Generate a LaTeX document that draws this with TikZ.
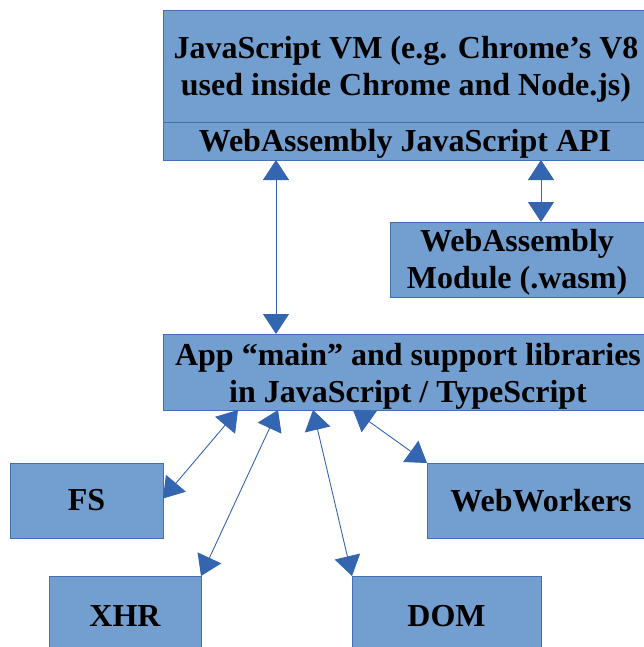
\documentclass[tikz,border=0pt]{standalone}
\usepackage{fontspec}
\setmainfont{Liberation Serif}
\usetikzlibrary{arrows.meta}
\definecolor{boxfill}{RGB}{114,159,207}
\definecolor{boxline}{RGB}{66,112,180}
\definecolor{arrowblue}{RGB}{52,101,176}
\begin{document}
\begin{tikzpicture}[x=1pt,y=-1pt,
  box/.style={rectangle, draw=boxline, fill=boxfill, line width=0.8pt,
    inner sep=0pt, outer sep=0pt, anchor=north west,
    font=\fontsize{32}{37}\selectfont\bfseries},
  boxtext/.style={inner sep=0pt, outer sep=0pt, align=center, text=black,
    font=\fontsize{32}{37}\selectfont\bfseries},
  link/.style={draw=arrowblue, line width=0.9pt,
    {Triangle[length=20pt,width=26pt]}-{Triangle[length=20pt,width=26pt]}}
]
\clip (0,0) rectangle (644,647);

% top block: VM with its JavaScript API strip
\node[box, minimum width=485pt, minimum height=112pt] (vm) at (163,10) {};
\node[box, minimum width=485pt, minimum height=38pt] (api) at (163,122) {};
\node[boxtext] (vmtext) at (406,69)
  {JavaScript VM (e.g. Chrome’s V8\\used inside Chrome and Node.js)};
\node[boxtext, anchor=base] (apitext) at (405,152)
  {WebAssembly JavaScript API};

% wasm module
\node[box, minimum width=258pt, minimum height=75pt] (wasm) at (390,222) {};
\node[boxtext] (wasmtext) at (517,262.5)
  {WebAssembly\\Module (.wasm)};

% application layer
\node[box, minimum width=485pt, minimum height=76pt] (app) at (163,334) {};
\node[boxtext] (apptext) at (408,376)
  {App “main” and support libraries\\in JavaScript / TypeScript};

% platform services
\node[box, minimum width=153pt, minimum height=75pt] (fs) at (10,463) {FS};
\node[box, minimum width=228pt, minimum height=75pt] (ww) at (427,463) {WebWorkers};
\node[box, minimum width=152pt, minimum height=80pt] (xhr) at (49,576) {XHR};
\node[box, minimum width=189pt, minimum height=80pt] (dom) at (352,576) {DOM};

% connectors
\draw[link] ([xshift=113pt]api.south west) -- ([xshift=113pt]app.north west);
\draw[link] ([xshift=378pt]api.south west) -- ([xshift=151pt]wasm.north west);
\draw[link] ([xshift=75pt]app.south west) -- ([yshift=2pt]fs.east);
\draw[link] ([xshift=115pt]app.south west) -- (xhr.north east);
\draw[link] ([xshift=150pt]app.south west) -- (dom.north west);
\draw[link] ([xshift=190pt]app.south west) -- (ww.north west);
\end{tikzpicture}
\end{document}
